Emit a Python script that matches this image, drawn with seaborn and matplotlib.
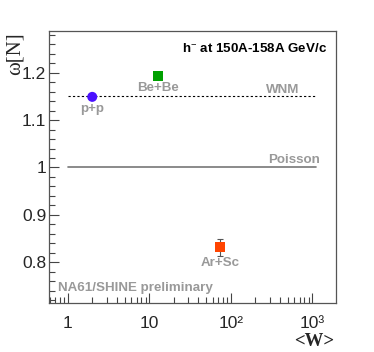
import numpy as np
import pandas as pd
import seaborn as sns
import matplotlib.pyplot as plt
from matplotlib.ticker import FixedLocator, FixedFormatter, MultipleLocator, LogLocator, NullFormatter

# data
systems = ["p+p", "Be+Be", "Ar+Sc"]
mean_w = [2.0, 12.8, 74.0]
omega = [1.149, 1.194, 0.832]
omega_err = [0.003, 0.007, 0.018]
colors = ["#4a10ff", "#00a000", "#ff4400"]
markers = ["o", "s", "s"]

wnm_level = 1.15
poisson_level = 1.0
ref_x = [1.0, 1120.0]

x_ticks = [1, 10, 100, 1000]
x_labels = ["1", "10", "10²", "10³"]
y_ticks = [0.8, 0.9, 1.0, 1.1, 1.2]
y_labels = ["0.8", "0.9", "1", "1.1", "1.2"]

sns.set_style("white")
plt.rcParams['font.family'] = ['Liberation Sans', 'DejaVu Sans']
plt.rcParams['mathtext.fontset'] = 'custom'
plt.rcParams['mathtext.rm'] = 'Liberation Sans'
plt.rcParams['mathtext.it'] = 'Liberation Sans'
plt.rcParams['mathtext.bf'] = 'Liberation Sans:bold'

df = pd.DataFrame({"system": systems, "W": mean_w, "omega": omega})

fig = plt.figure(figsize=(3.74, 3.52), dpi=100)
ax = fig.add_axes([49 / 374, 1 - 303 / 352, 287 / 374, 272 / 352])

# reference lines
sns.lineplot(x=ref_x, y=[wnm_level] * 2, ax=ax, color="black", lw=0.8,
             linestyle=(0, (2, 2)))
sns.lineplot(x=ref_x, y=[poisson_level] * 2, ax=ax, color="#777777", lw=1.2)

ax.errorbar(mean_w, omega, yerr=omega_err, fmt="none", ecolor="#555555",
            elinewidth=0.8, capsize=2, capthick=0.8, zorder=2)
sns.scatterplot(data=df, x="W", y="omega", hue="system", style="system",
                palette=colors, markers=markers, s=52, linewidth=0,
                legend=False, ax=ax, zorder=3)

ax.set_xscale("log")
ax.set_xlim(0.59, 1950)
ax.set_ylim(0.714, 1.288)

ax.xaxis.set_major_locator(FixedLocator(x_ticks))
ax.xaxis.set_major_formatter(FixedFormatter(x_labels))
ax.xaxis.set_minor_locator(LogLocator(base=10, subs=np.arange(2, 10)))
ax.xaxis.set_minor_formatter(NullFormatter())
ax.yaxis.set_major_locator(FixedLocator(y_ticks))
ax.yaxis.set_major_formatter(FixedFormatter(y_labels))
ax.yaxis.set_minor_locator(MultipleLocator(0.02))

ax.tick_params(which="both", direction="in", bottom=True, left=True,
               top=False, right=False, labelsize=12.5, color="#444444")
ax.tick_params(axis="y", which="both", pad=2)
ax.tick_params(axis="x", which="both", pad=9)
ax.tick_params(which="major", length=7, width=0.8)
ax.tick_params(which="minor", length=4, width=0.8)
for sp in ax.spines.values():
    sp.set_color("#555555")
    sp.set_linewidth(0.9)

ax.set_xlabel("")
ax.set_ylabel("")
fig.text(314 / 374, 1 - 341 / 352, "<W>", family="Liberation Serif",
         fontweight="bold", fontsize=13.5, ha="center", va="center")
fig.text(15 / 374, 1 - 54 / 352, "ω[N]", family="Liberation Serif",
         fontsize=15, rotation=90, ha="center", va="center")

gray = "#999999"
fs = 9.6
ax.text(0.97, 0.96, "h$^{-}$ at 150A-158A GeV/c", transform=ax.transAxes,
        ha="right", va="top", fontsize=fs, fontweight="bold", color="black")
ax.text(mean_w[0], 1.124, "p+p", ha="center", va="center",
        fontsize=fs, fontweight="bold", color=gray)
ax.text(mean_w[1], 1.168, "Be+Be", ha="center", va="center",
        fontsize=fs, fontweight="bold", color=gray)
ax.text(mean_w[2], 0.798, "Ar+Sc", ha="center", va="center",
        fontsize=fs, fontweight="bold", color=gray)
ax.text(437, 1.164, "WNM", ha="center", va="center",
        fontsize=fs, fontweight="bold", color=gray)
ax.text(598, 1.015, "Poisson", ha="center", va="center",
        fontsize=fs, fontweight="bold", color=gray)
ax.text(0.031, 0.055, "NA61/SHINE preliminary", transform=ax.transAxes,
        ha="left", va="center", fontsize=fs, fontweight="bold", color=gray)

fig.savefig("out.png", dpi=100)
